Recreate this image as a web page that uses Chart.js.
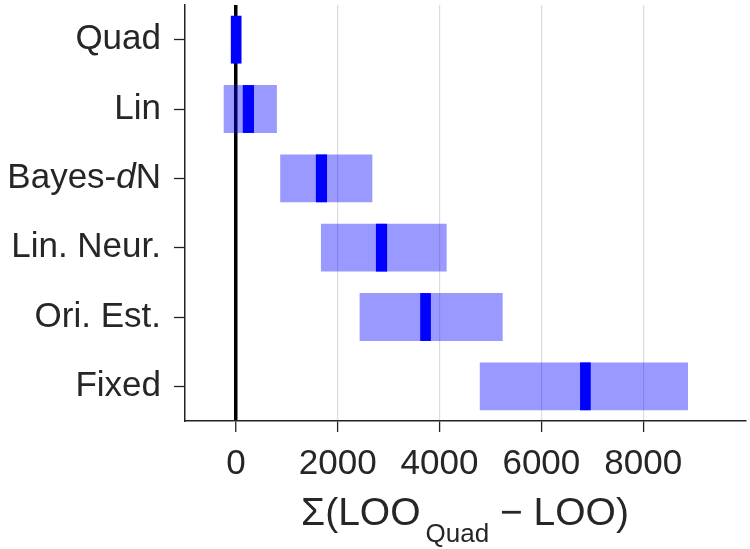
<!DOCTYPE html>
<html>
<head>
<meta charset="utf-8">
<script src="https://cdn.jsdelivr.net/npm/chart.js@4.4.1/dist/chart.umd.min.js"></script>
<style>
  html, body { margin: 0; padding: 0; background: #fff; }
</style>
</head>
<body>
<canvas id="looChart" width="750" height="549"></canvas>
<script>
// --- data ---
const categories = ['Quad', 'Lin', 'Bayes-dN', 'Lin. Neur.', 'Ori. Est.', 'Fixed'];
const intervalLow = [0, -240, 870, 1670, 2430, 4790];
const intervalHigh = [0, 805, 2680, 4140, 5240, 8880];
const centerLow = [-100, 135, 1570, 2750, 3620, 6760];
const centerHigh = [110, 355, 1790, 2970, 3830, 6970];
const xTicks = [0, 2000, 4000, 6000, 8000];

const FONT = '"Liberation Sans", Arial, Helvetica, sans-serif';
const TEXT = '#262626';

// Bayes-dN needs an italic d, so that one label is drawn by hand
const italicLabel = {
  id: 'italicLabel',
  afterDraw(chart) {
    const ys = chart.scales.y;
    const o = ys.options;
    const c = chart.ctx;
    const xr = ys.right - o.grid.tickLength - o.ticks.padding;
    const y = ys.getPixelForTick(2);
    c.save();
    c.fillStyle = TEXT;
    c.textBaseline = 'middle';
    c.textAlign = 'left';
    const normal = '35px ' + FONT;
    const ital = 'italic 35px ' + FONT;
    c.font = normal;
    const wN = c.measureText('N').width;
    const wA = c.measureText('Bayes-').width;
    c.font = ital;
    const wD = c.measureText('d').width;
    let x = xr - wN - wD - wA;
    c.font = normal;
    c.fillText('Bayes-', x, y);
    x += wA;
    c.font = ital;
    c.fillText('d', x, y);
    x += wD;
    c.font = normal;
    c.fillText('N', x, y);
    c.restore();
  }
};

// x axis title with subscript
const xTitle = {
  id: 'xTitle',
  afterDraw(chart) {
    const a = chart.chartArea;
    const c = chart.ctx;
    const big = '39px ' + FONT;
    const small = '26px ' + FONT;
    const p1 = '\u03A3(LOO', p2 = 'Quad', p3 = ' \u2212 LOO)';
    c.save();
    c.fillStyle = TEXT;
    c.textBaseline = 'alphabetic';
    c.textAlign = 'left';
    c.font = big;
    const w1 = c.measureText(p1).width;
    const w3 = c.measureText(p3).width;
    c.font = small;
    const w2 = c.measureText(p2).width;
    const gap = 5;
    let x = (a.left + a.right) / 2 - (w1 + gap + w2 + w3) / 2;
    c.font = big;
    c.fillText(p1, x, 525);
    x += w1 + gap;
    c.font = small;
    c.fillText(p2, x, 542);
    x += w2;
    c.font = big;
    c.fillText(p3, x, 525);
    c.restore();
  }
};

const ctx = document.getElementById('looChart').getContext('2d');

new Chart(ctx, {
  type: 'bar',
  data: {
    labels: categories,
    datasets: [{
      label: 'center',
      data: categories.map((_, i) => [centerLow[i], centerHigh[i]]),
      backgroundColor: '#0000ff',
      borderWidth: 0,
      grouped: false,
      categoryPercentage: 1,
      barPercentage: 0.69,
      order: 0
    }, {
      label: 'interval',
      data: categories.map((_, i) => [intervalLow[i], intervalHigh[i]]),
      backgroundColor: 'rgba(0, 0, 255, 0.4)',
      borderWidth: 0,
      grouped: false,
      categoryPercentage: 1,
      barPercentage: 0.69,
      order: 1
    }]
  },
  options: {
    indexAxis: 'y',
    responsive: false,
    animation: false,
    layout: { padding: { top: 5, right: 5, left: 0, bottom: 0 } },
    scales: {
      x: {
        type: 'linear',
        min: -1000,
        max: 10000,
        afterBuildTicks: (s) => { s.ticks = xTicks.map(v => ({ value: v })); },
        afterFit: (s) => {
          s.height = 128;
          s.paddingLeft = 0;
          s.paddingRight = 0;
        },
        ticks: {
          color: TEXT,
          font: { family: FONT, size: 35 },
          padding: 11,
          maxRotation: 0,
          callback: (v) => String(v)
        },
        grid: {
          color: (c) => (c.tick && c.tick.value === 0) ? '#000000' : '#dcdcdc',
          lineWidth: (c) => (c.tick && c.tick.value === 0) ? 3.5 : 1.2,
          tickColor: '#222222',
          tickWidth: 1.3,
          tickLength: 11
        },
        border: { color: '#222222', width: 1.5 }
      },
      y: {
        type: 'category',
        offset: true,
        afterFit: (s) => {
          s.width = 185;
          s.paddingTop = 0;
          s.paddingBottom = 0;
        },
        ticks: {
          color: (c) => c.index === 2 ? 'rgba(0,0,0,0)' : TEXT,
          font: { family: FONT, size: 35 },
          padding: 13
        },
        grid: {
          offset: false,
          drawOnChartArea: false,
          color: '#222222',
          tickWidth: 1.3,
          tickLength: 11
        },
        border: { color: '#222222', width: 1.5 }
      }
    },
    plugins: {
      legend: { display: false },
      tooltip: { enabled: false }
    }
  },
  plugins: [italicLabel, xTitle]
});
</script>
</body>
</html>
